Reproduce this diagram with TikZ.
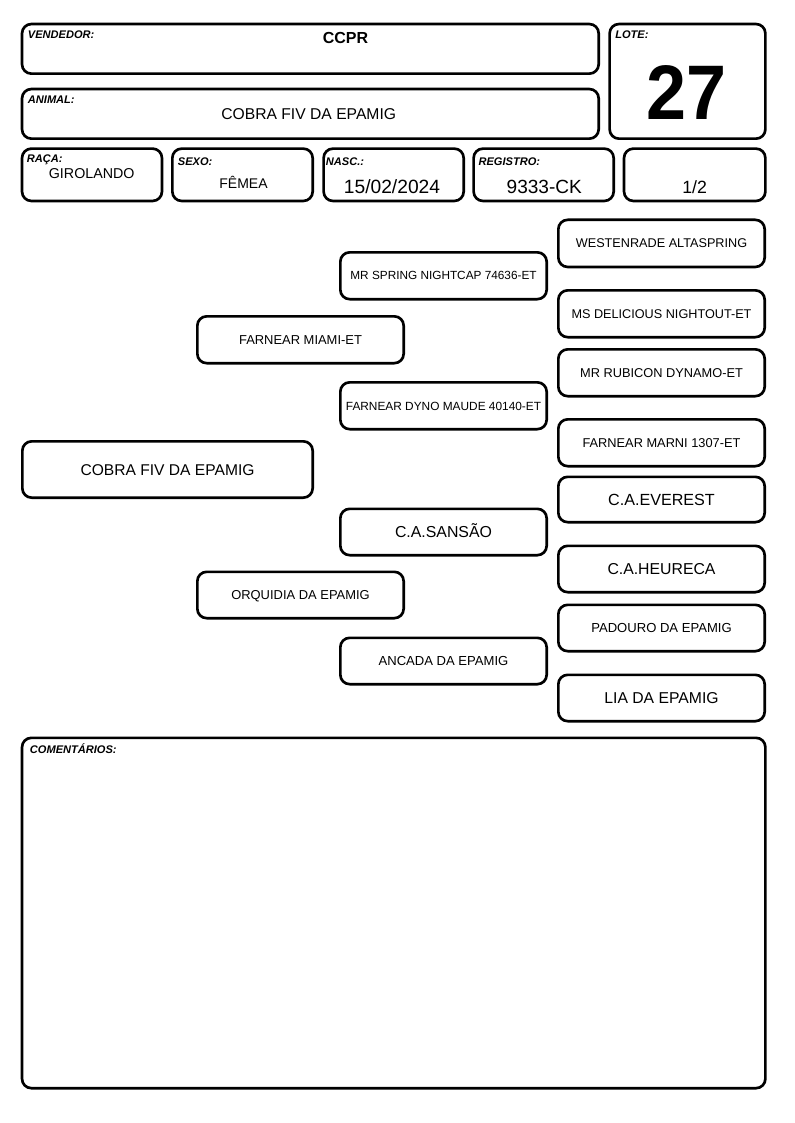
\documentclass[tikz,border=0pt]{standalone}
\usepackage{fontspec}
\setmainfont{Liberation Sans}
\usepackage{graphicx}
\tikzset{
 frame/.style={draw=black, line width=2pt, rounded corners=7pt, inner sep=0pt, outer sep=0pt, align=center},
 lab/.style={anchor=base west, inner sep=0pt, font=\bfseries\itshape\fontsize{8.3}{9}\selectfont},
 val/.style={anchor=base, inner sep=0pt},
}
\newcommand\pbox[7]{\node[frame, minimum width={(#4-#2)*0.75pt-2pt}, minimum height={(#5-#3)*0.75pt-2pt}, text height={0.716*#6pt}, text depth=0pt, font=\fontsize{#6}{#6}\selectfont] (#1) at ({(#2+#4)/2},{(#3+#5)/2}) {#7};}
\begin{document}
\begin{tikzpicture}[x=0.75pt,y=-0.75pt]
\useasboundingbox (0,0) rectangle (794,1123);
% header boxes
\pbox{vend}{20.7}{22.7}{600}{75}{8}{}
\pbox{anim}{20.7}{87.7}{600}{140}{8}{}
\pbox{lote}{608.3}{22.7}{766.7}{140}{8}{}
\pbox{raca}{20.7}{147.3}{163.3}{202.3}{8}{}
\pbox{sexo}{171}{147.3}{314}{202.3}{8}{}
\pbox{nasc}{322.3}{147.3}{465}{202.3}{8}{}
\pbox{reg}{472.3}{147.3}{615}{202.3}{8}{}
\pbox{half}{622.7}{147.3}{766.7}{202.3}{8}{}
% labels
\node[lab] (lvend) at (27.7,39) {VENDEDOR:};
\node[lab] (lanim) at (27.7,103.3) {ANIMAL:};
\node[lab] (llote) at (615,39) {LOTE:};
\node[lab] (lraca) at (26.7,162.3) {RAÇA:};
\node[lab] (lsexo) at (177.7,165.3) {SEXO:};
\node[lab] (lnasc) at (325.7,165.3) {NASC.:};
\node[lab] (lreg) at (478.3,165.3) {REGISTRO:};
% values
\node[val, font=\bfseries\fontsize{12}{14}\selectfont] (vvend) at (345.5,43.3) {CCPR};
\node[val, font=\fontsize{11.75}{14}\selectfont] (vanim) at (308.7,119.3) {COBRA FIV DA EPAMIG};
\node[val] (vlote) at (686.2,120) {\scalebox{0.93}[1]{\fontsize{58}{58}\selectfont\bfseries 27}};
\node[val, font=\fontsize{10.7}{12}\selectfont] (vraca) at (91.7,178.3) {GIROLANDO};
\node[val, font=\fontsize{10.5}{12}\selectfont] (vsexo) at (243.5,189) {FÊMEA};
\node[val, font=\fontsize{14.4}{16}\selectfont] (vnasc) at (392,193.3) {15/02/2024};
\node[val, font=\fontsize{14.3}{16}\selectfont] (vreg) at (544.3,193.3) {9333-CK};
\node[val, font=\fontsize{13.3}{16}\selectfont] (vhalf) at (694.7,193.3) {1/2};
% pedigree
\pbox{west}{557}{218.5}{766}{268.3}{9.5}{WESTENRADE ALTASPRING}
\pbox{spring}{339}{251}{548}{300.5}{8.85}{MR SPRING NIGHTCAP 74636-ET}
\pbox{delic}{557}{289}{766}{338.5}{9.5}{MS DELICIOUS NIGHTOUT-ET}
\pbox{miami}{196}{315}{405}{364.5}{9.7}{FARNEAR MIAMI-ET}
\pbox{rubic}{557}{348}{766}{397.5}{9.6}{MR RUBICON DYNAMO-ET}
\pbox{dyno}{339}{381}{548}{430.5}{8.9}{FARNEAR DYNO MAUDE 40140-ET}
\pbox{marni}{557}{418}{766}{467.5}{9.6}{FARNEAR MARNI 1307-ET}
\pbox{cobra}{21}{440}{314}{499}{11.7}{COBRA FIV DA EPAMIG}
\pbox{ever}{557}{475.5}{766}{523.5}{12.1}{C.A.EVEREST}
\pbox{sansao}{339}{507.5}{548}{556.5}{11.9}{C.A.SANSÃO}
\pbox{heur}{557}{544.5}{766}{593.5}{11.85}{C.A.HEURECA}
\pbox{orq}{196}{570.5}{405}{619.5}{9.7}{ORQUIDIA DA EPAMIG}
\pbox{padou}{557}{603.5}{766}{652.5}{9.8}{PADOURO DA EPAMIG}
\pbox{ancad}{339}{636.5}{548}{685.5}{9.8}{ANCADA DA EPAMIG}
\pbox{lia}{557}{673.5}{766}{722.5}{11.8}{LIA DA EPAMIG}
% comments
\pbox{coment}{20.7}{736.5}{766.7}{1089.5}{8}{}
\node[lab] (lcoment) at (29.7,753.3) {COMENTÁRIOS:};
\end{tikzpicture}
\end{document}
